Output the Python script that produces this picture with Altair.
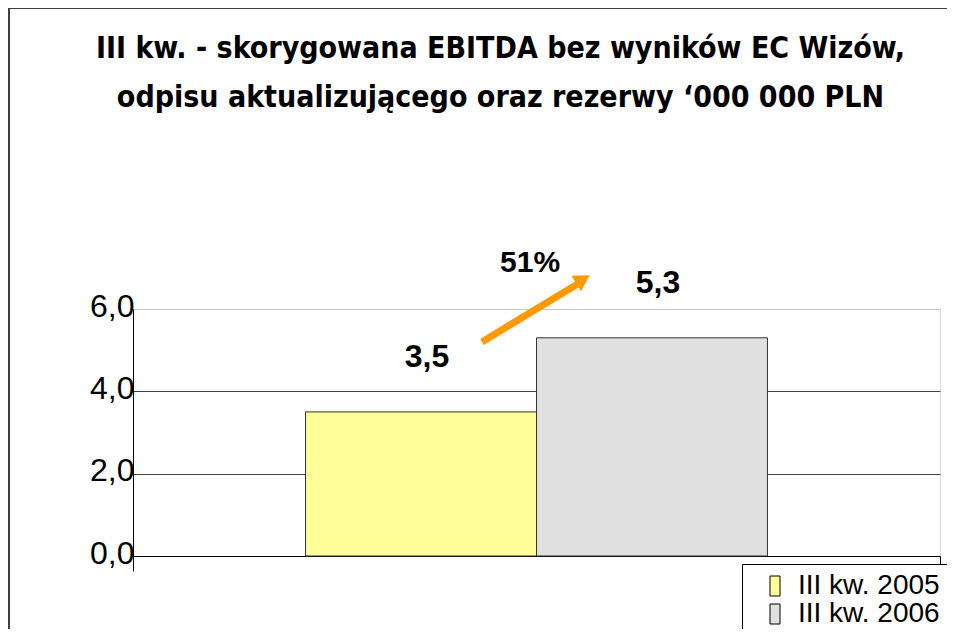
import altair as alt
import pandas as pd

# ---- data ----
series = ["III kw. 2005", "III kw. 2006"]
values = [3.5, 5.3]
value_labels = ["3,5", "5,3"]
group = ["III kw.", "III kw."]
colors = ["#FFFF99", "#E0E0E0"]
y_ticks = [0, 2, 4, 6]
change_label = ["51%"]
change_pos_x = [0.492]
change_pos_y = [7.12]
arrow_x = [0.4325, 0.551]
arrow_y = [5.2, 6.61]
arrow_head_x = [0.5576]
arrow_head_y = [6.72]
title_lines = [
    "III kw. - skorygowana EBITDA bez wyników EC Wizów,",
    "odpisu aktualizującego oraz rezerwy \u2018000 000 PLN",
]

bars_df = pd.DataFrame({"group": group, "series": series, "value": values, "label": value_labels})
arrow_df = pd.DataFrame({"ax": arrow_x, "ay": arrow_y})
head_df = pd.DataFrame({"ax": arrow_head_x, "ay": arrow_head_y})
change_df = pd.DataFrame({"ax": change_pos_x, "ay": change_pos_y, "label": change_label})

ORANGE = "#FF9900"
ARIAL = "Liberation Sans"

y_scale = alt.Scale(domain=[0, 6], nice=False, zero=True)
y_axis = alt.Axis(
    values=y_ticks,
    title=None,
    labelExpr="replace(format(datum.value, '.1f'), '.', ',')",
    labelFontSize=32,
    labelFont=ARIAL,
    labelColor="black",
    labelPadding=-1,
    labelBaseline="alphabetic",
    labelOffset=7,
    ticks=False,
    domainColor="black",
    domainWidth=1,
    grid=True,
    gridColor={"condition": {"test": "datum.value == 6", "value": "#c8c8c8"}, "value": "#444444"},
    gridWidth=1,
)

x_enc = alt.X(
    "group:N",
    scale=alt.Scale(paddingInner=0, paddingOuter=0),
    axis=alt.Axis(
        title=None,
        labels=False,
        ticks=True,
        tickBand="extent",
        tickSize=15,
        tickColor="black",
        domainColor="black",
        grid=False,
    ),
)
xoff = alt.XOffset("series:N", scale=alt.Scale(paddingInner=0, paddingOuter=0.747))

base = alt.Chart(bars_df)

bars = base.mark_bar(stroke="#333333", strokeWidth=1).encode(
    x=x_enc,
    xOffset=xoff,
    y=alt.Y("value:Q", scale=y_scale, axis=y_axis),
    color=alt.Color(
        "series:N",
        scale=alt.Scale(domain=series, range=colors),
        legend=alt.Legend(
            title=None,
            orient="none",
            legendX=609,
            legendY=255,
            direction="vertical",
            symbolType="M-0.5,-1L0.5,-1L0.5,1L-0.5,1Z",
            symbolSize=400,
            symbolStrokeColor="black",
            symbolStrokeWidth=1,
            symbolOffset=11,
            labelFont=ARIAL,
            labelFontSize=28,
            labelColor="black",
            labelOffset=9,
            rowPadding=0,
            padding=8,
            strokeColor="black",
            fillColor="white",
        ),
    ),
)

value_text = base.mark_text(
    font=ARIAL, fontSize=32, fontWeight="bold", color="black", dy=-55, dx=6, baseline="middle"
).encode(
    x=alt.X("group:N"),
    xOffset=alt.XOffset("series:N"),
    y=alt.Y("value:Q"),
    text="label:N",
)

ax_scale = alt.Scale(domain=[0, 1], nice=False, zero=False)

arrow_line = alt.Chart(arrow_df).mark_line(color=ORANGE, strokeWidth=7, strokeCap="butt").encode(
    x=alt.X("ax:Q", scale=ax_scale, axis=None),
    y=alt.Y("ay:Q"),
)
arrow_head = alt.Chart(head_df).mark_point(
    shape="triangle-up", filled=True, size=330, angle=58.6, color=ORANGE, opacity=1
).encode(
    x=alt.X("ax:Q", scale=ax_scale, axis=None),
    y=alt.Y("ay:Q"),
)
change_text = alt.Chart(change_df).mark_text(
    font=ARIAL, fontSize=30, fontWeight="bold", color="black", baseline="middle"
).encode(
    x=alt.X("ax:Q", scale=ax_scale, axis=None),
    y=alt.Y("ay:Q"),
    text="label:N",
)

frame_top = alt.Chart(bars_df).mark_rule(color="#333333", strokeWidth=1.5).encode(
    x=alt.value(-124), x2=alt.value(830), y=alt.value(-301)
)
frame_left = alt.Chart(bars_df).mark_rule(color="#333333", strokeWidth=1.5).encode(
    x=alt.value(-124), y=alt.value(-301), y2=alt.value(330)
)

bar_layer = alt.layer(bars, value_text)
anno_layer = alt.layer(arrow_line, arrow_head, change_text)

chart = (
    alt.layer(bar_layer, anno_layer, frame_top, frame_left)
    .resolve_scale(x="independent")
    .properties(
        width=807,
        height=247,
        autosize=alt.AutoSizeParams(type="none"),
        padding={"left": 125, "top": 301, "right": 7, "bottom": 73},
        title=alt.TitleParams(
            text=title_lines,
            font="DejaVu Sans Condensed",
            fontSize=30,
            fontWeight="bold",
            color="black",
            anchor="middle",
            frame="group",
            dx=-36,
            offset=-106,
            lineHeight=49,
        ),
    )
    .configure_view(strokeWidth=0)
    .configure(background="white")
)

chart.save("out.html", embed_options={"renderer": "svg", "actions": False})
